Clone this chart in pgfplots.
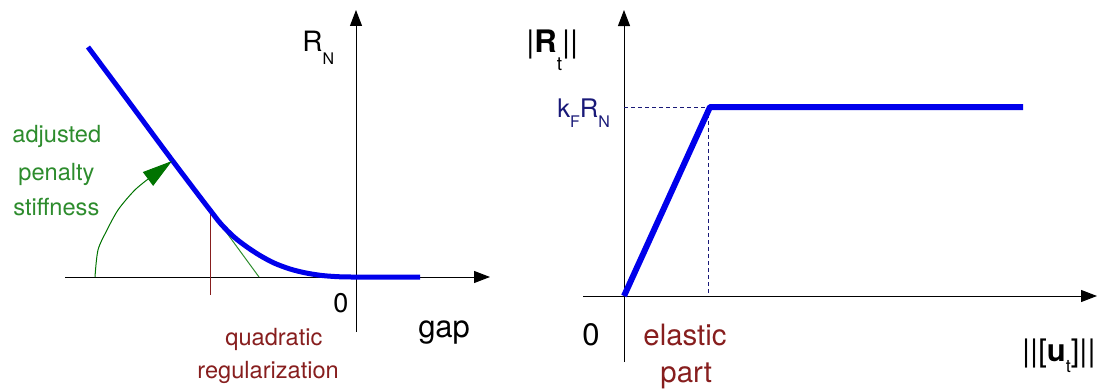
\documentclass[border=0pt]{standalone}
\usepackage{pgfplots}
\pgfplotsset{compat=1.18}
\usepackage{fontspec}
\setmainfont{TeX Gyre Heros}
\usetikzlibrary{arrows.meta}
\definecolor{cblue}{RGB}{0,0,235}
\definecolor{cgreen}{RGB}{45,140,45}
\definecolor{cdgreen}{RGB}{0,115,0}
\definecolor{cred}{RGB}{135,30,30}
\definecolor{cnavy}{RGB}{25,25,120}
\begin{document}
\begin{tikzpicture}
\useasboundingbox (0,0) rectangle (549pt,-195pt);
\pgfplotsset{
  myax/.style={
    x=0.5pt, y=0.5pt, anchor=origin,
    axis lines=middle, enlargelimits=false,
    xtick=\empty, ytick=\empty,
    axis line style={line width=0.5pt, -{Triangle[length=8pt,width=6pt]}},
    clip=false,
  }
}
% ---------------- left panel ----------------
\begin{axis}[myax, at={(178pt,-138.5pt)}, xmin=-291, xmax=134, ymin=-55, ymax=267]
\addplot[cred, line width=0.5pt] coordinates {(-146,67) (-146,-18)};
\addplot[cgreen, line width=0.5pt] coordinates {(-146,67) (-97,0)};
\addplot[cblue, line width=2.5pt, smooth, line join=round] coordinates {
(-268,230) (-227,175) (-187,121) (-156,80) (-146,67) (-135,53) (-122,40) (-109,30) (-96,21.5) (-82,14) (-66,8) (-50,4) (-34,1.5) (-18,0.3) (-5,0) (30,0) (64,0)};
\addplot[cdgreen, line width=0.5pt, smooth, -{Triangle[length=15pt,width=8.5pt]}] coordinates {
(-261,0) (-258,27) (-249,47) (-238,67) (-224,84) (-213,94) (-184,116)};
\node[anchor=base west, text=cgreen, font=\fontsize{11.8}{14}\selectfont, inner sep=0] at (axis cs:-344,134) {adjusted};
\node[anchor=base west, text=cgreen, font=\fontsize{11.8}{14}\selectfont, inner sep=0] at (axis cs:-338,97) {penalty};
\node[anchor=base west, text=cgreen, font=\fontsize{11.8}{14}\selectfont, inner sep=0] at (axis cs:-343,62) {stiffness};
\node[anchor=base west, text=cred, font=\fontsize{11.8}{14}\selectfont, inner sep=0] at (axis cs:-131,-68) {quadratic};
\node[anchor=base west, text=cred, font=\fontsize{11.8}{14}\selectfont, inner sep=0] at (axis cs:-159,-101) {regularization};
\node[anchor=base west, font=\fontsize{13.5}{14}\selectfont, inner sep=0] at (axis cs:-23,-35) {0};
\node[anchor=base west, font=\fontsize{15.5}{16}\selectfont, inner sep=0] at (axis cs:62,-60) {gap};
\node[anchor=base west, font=\fontsize{14}{16}\selectfont, inner sep=0] at (axis cs:-54,225) {R\raisebox{-6.5pt}{\fontsize{8}{8}\selectfont N}};
\end{axis}
% ---------------- right panel ----------------
\begin{axis}[myax, at={(312pt,-148pt)}, xmin=-41, xmax=473, ymin=-66, ymax=286]
\addplot[cnavy, line width=0.5pt, dash pattern=on 2pt off 1.5pt] coordinates {(0,189) (84,189) (84,0)};
\addplot[cblue, line width=3pt, line join=round] coordinates {(0,0) (86,189) (399,189)};
\node[anchor=base west, font=\fontsize{15.5}{18}\selectfont, inner sep=0] at (axis cs:-98,243) {|\textbf{R}\raisebox{-9pt}{\fontsize{9.5}{9}\selectfont t}||};
\node[anchor=base west, text=cnavy, font=\fontsize{12.8}{14}\selectfont, inner sep=0] at (axis cs:-67,179) {k\raisebox{-5pt}{\fontsize{8}{8}\selectfont F}R\raisebox{-5pt}{\fontsize{8}{8}\selectfont N}};
\node[anchor=base west, font=\fontsize{15.5}{16}\selectfont, inner sep=0] at (axis cs:-42,-49) {0};
\node[anchor=base west, text=cred, font=\fontsize{14.7}{16}\selectfont, inner sep=0] at (axis cs:19,-49) {elastic};
\node[anchor=base west, text=cred, font=\fontsize{14.7}{16}\selectfont, inner sep=0] at (axis cs:36,-86) {part};
\node[anchor=base east, font=\fontsize{15.5}{16}\selectfont, inner sep=0] at (axis cs:472,-65) {||[\textbf{u}\raisebox{-5.5pt}{\fontsize{9}{9}\selectfont t}]||};
\end{axis}
\end{tikzpicture}
\end{document}
